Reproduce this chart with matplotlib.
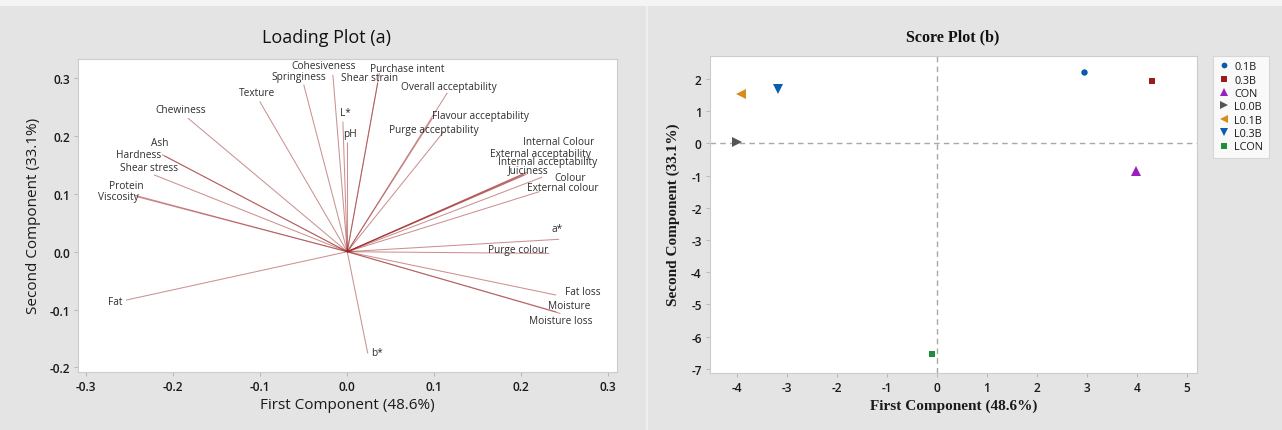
import matplotlib
matplotlib.use("Agg")
import matplotlib.pyplot as plt
from matplotlib.patches import Rectangle

plt.rcParams["axes.unicode_minus"] = False

# ---- loading vectors (first / second principal component) ----
variables = [
    "Cohesiveness", "Springiness", "Texture", "Chewiness", "Ash", "Hardness",
    "Shear stress", "Protein", "Viscosity", "Fat", "L*", "pH", "Shear strain",
    "Purchase intent", "Overall acceptability", "Flavour acceptability",
    "Purge acceptability", "Internal Colour", "External acceptability",
    "Internal acceptability", "Juiciness", "Colour", "External colour", "a*",
    "Purge colour", "Fat loss", "Moisture", "Moisture loss", "b*",
]
pc1_loading = [
    -0.0165, -0.050, -0.1006, -0.183, -0.210, -0.213,
    -0.222, -0.245, -0.242, -0.254, -0.005, 0.000, 0.035,
    0.037, 0.115, 0.098,
    0.111, 0.207, 0.205,
    0.206, 0.203, 0.224, 0.221, 0.2435,
    0.232, 0.240, 0.240, 0.245, 0.0236,
]
pc2_loading = [
    0.306, 0.289, 0.260, 0.231, 0.166, 0.168,
    0.133, 0.098, 0.0953, -0.0837, 0.225, 0.190, 0.292,
    0.309, 0.275, 0.231,
    0.208, 0.138, 0.136,
    0.134, 0.133, 0.129, 0.104, 0.0215,
    -0.003, -0.075, -0.104, -0.107, -0.176,
]

# ---- scores per treatment ----
groups = ["0.1B", "0.3B", "CON", "L0.0B", "L0.1B", "L0.3B", "LCON"]
score_pc1 = [2.95, 4.31, 3.99, -4.00, -3.91, -3.18, -0.09]
score_pc2 = [2.23, 1.93, -0.86, 0.04, 1.53, 1.70, -6.53]

x_ticks_a = [-0.3, -0.2, -0.1, 0.0, 0.1, 0.2, 0.3]
y_ticks_a = [-0.2, -0.1, 0.0, 0.1, 0.2, 0.3]
x_ticks_b = [-4, -3, -2, -1, 0, 1, 2, 3, 4, 5]
y_ticks_b = [-7, -6, -5, -4, -3, -2, -1, 0, 1, 2]

# label placement (pixel offsets from each vector tip)
label_offsets = {
    "Cohesiveness": (-9, 9), "Springiness": (-5, 8), "Texture": (-3, 9),
    "Chewiness": (-7, 9), "Ash": (-5, 13), "Hardness": (-23, 0),
    "Shear stress": (-5, 7), "Protein": (-8, 10), "Viscosity": (-18, 0),
    "Fat": (-11, -1), "L*": (3, 9), "pH": (3, 8), "Shear strain": (-8, 5),
    "Purchase intent": (28, 5), "Overall acceptability": (2, 6),
    "Flavour acceptability": (48, 3), "Purge acceptability": (-10, 2),
    "Internal Colour": (31, 30), "External acceptability": (15, 20),
    "Internal acceptability": (21, 13), "Juiciness": (4, 5),
    "Colour": (28, 0), "External colour": (23, 4), "a*": (-2, 11),
    "Purge colour": (-31, 4), "Fat loss": (27, 4), "Moisture": (13, 6),
    "Moisture loss": (0, -7), "b*": (9, 1),
}

# marker style per treatment
group_styles = {
    "0.1B": ("o", "#0a5aab", 4.6),
    "0.3B": ("s", "#9e1b1b", 4.8),
    "CON": ("^", "#9b1fbf", 7.0),
    "L0.0B": (">", "#555555", 7.0),
    "L0.1B": ("<", "#d68c1c", 7.0),
    "L0.3B": ("v", "#0c5db0", 7.0),
    "LCON": ("s", "#1d8f3d", 4.8),
}

SANS = ["Open Sans", "DejaVu Sans"]
SERIF = ["Liberation Serif", "DejaVu Serif"]
BG = "#e4e4e4"
SPINE = "#cccccc"
TXT = "#1a1a1a"

W, H = 1282, 431
fig = plt.figure(figsize=(W / 100, H / 100), dpi=100, facecolor=BG)

# panel frame details
fig.patches.append(Rectangle((0, 1 - 7 / H), 1, 7 / H, transform=fig.transFigure,
                             facecolor="#f4f4f4", edgecolor="none", zorder=0))
fig.patches.append(Rectangle((646 / W, 0), 2 / W, 1 - 7 / H, transform=fig.transFigure,
                             facecolor="#efefef", edgecolor="none", zorder=0))


def px_axes(x0, y0, x1, y1):
    return fig.add_axes([x0 / W, 1 - y1 / H, (x1 - x0) / W, (y1 - y0) / H])


def style_axes(ax):
    ax.set_facecolor("white")
    for s in ax.spines.values():
        s.set_color(SPINE)
        s.set_linewidth(0.8)
    ax.tick_params(direction="out", length=3, width=0.6, color="#b0b0b0",
                   labelcolor=TXT, labelsize=8.6, pad=3)
    for lab in ax.get_xticklabels() + ax.get_yticklabels():
        lab.set_fontfamily(SANS)
        lab.set_fontweight("semibold")


# ---------------- Loading plot ----------------
axA = px_axes(78.3, 60, 616.7, 372.7)
axA.set_xlim(-0.309, 0.3096)
axA.set_ylim(-0.2076, 0.3334)
axA.set_xticks(x_ticks_a)
axA.set_yticks(y_ticks_a)
axA.set_xticklabels([f"{v:.1f}" for v in x_ticks_a])
axA.set_yticklabels([f"{v:.1f}" for v in y_ticks_a])
style_axes(axA)

for name, x, y in zip(variables, pc1_loading, pc2_loading):
    axA.plot([0, x], [0, y], color="#9a2424", alpha=0.5, lw=0.75,
             solid_capstyle="butt")
    dx, dy = label_offsets[name]
    axA.annotate(name, (x, y), xytext=(dx, dy), textcoords="offset pixels",
                 ha="center", va="center", fontsize=7.3, family=SANS,
                 color="#2e2e2e")

axA.set_xlabel("First Component (48.6%)", family=SANS, fontsize=11,
               color=TXT, labelpad=3)
axA.set_ylabel("Second Component (33.1%)", family=SANS, fontsize=11,
               color=TXT, labelpad=6)
fig.text(326 / W, 1 - 38 / H, "Loading Plot (a)", family=SANS, fontsize=13,
         color="#111111", ha="center", va="center")

# ---------------- Score plot ----------------
axB = px_axes(710, 56.5, 1196.7, 374)
axB.set_xlim(-4.533, 5.195)
axB.set_ylim(-7.126, 2.728)
axB.set_xticks(x_ticks_b)
axB.set_yticks(y_ticks_b)
style_axes(axB)

axB.axvline(0, color="#a8a8a8", lw=1.0, ls=(0, (4, 3)), zorder=1)
axB.axhline(0, color="#a8a8a8", lw=1.0, ls=(0, (4, 3)), zorder=1)

for g, x, y in zip(groups, score_pc1, score_pc2):
    m, c, ms = group_styles[g]
    axB.plot([x], [y], ls="none", marker=m, color=c, markersize=ms,
             markeredgewidth=0, label=g, zorder=3)

leg = axB.legend(loc="upper left", bbox_to_anchor=(1212.7 / W, 1 - 56.7 / H),
                 bbox_transform=fig.transFigure, frameon=True, fancybox=False,
                 prop={"family": SANS, "size": 7.8}, handlelength=1.0,
                 handletextpad=0.5, labelspacing=0.22, borderpad=0.5,
                 borderaxespad=0, markerscale=0.9)
leg.get_frame().set_edgecolor("#d0d0d0")
leg.get_frame().set_linewidth(0.8)
for t in leg.get_texts():
    t.set_color(TXT)

axB.set_xlabel("First Component (48.6%)", family=SERIF, fontweight="bold",
               fontsize=11, color=TXT, labelpad=3)
axB.set_ylabel("Second Component (33.1%)", family=SERIF, fontweight="bold",
               fontsize=11, color=TXT, labelpad=8)
fig.text(953 / W, 1 - 37 / H, "Score Plot (b)", family=SERIF,
         fontweight="bold", fontsize=11.5, color="#111111",
         ha="center", va="center")

fig.savefig("out.png", dpi=100, facecolor=BG)
